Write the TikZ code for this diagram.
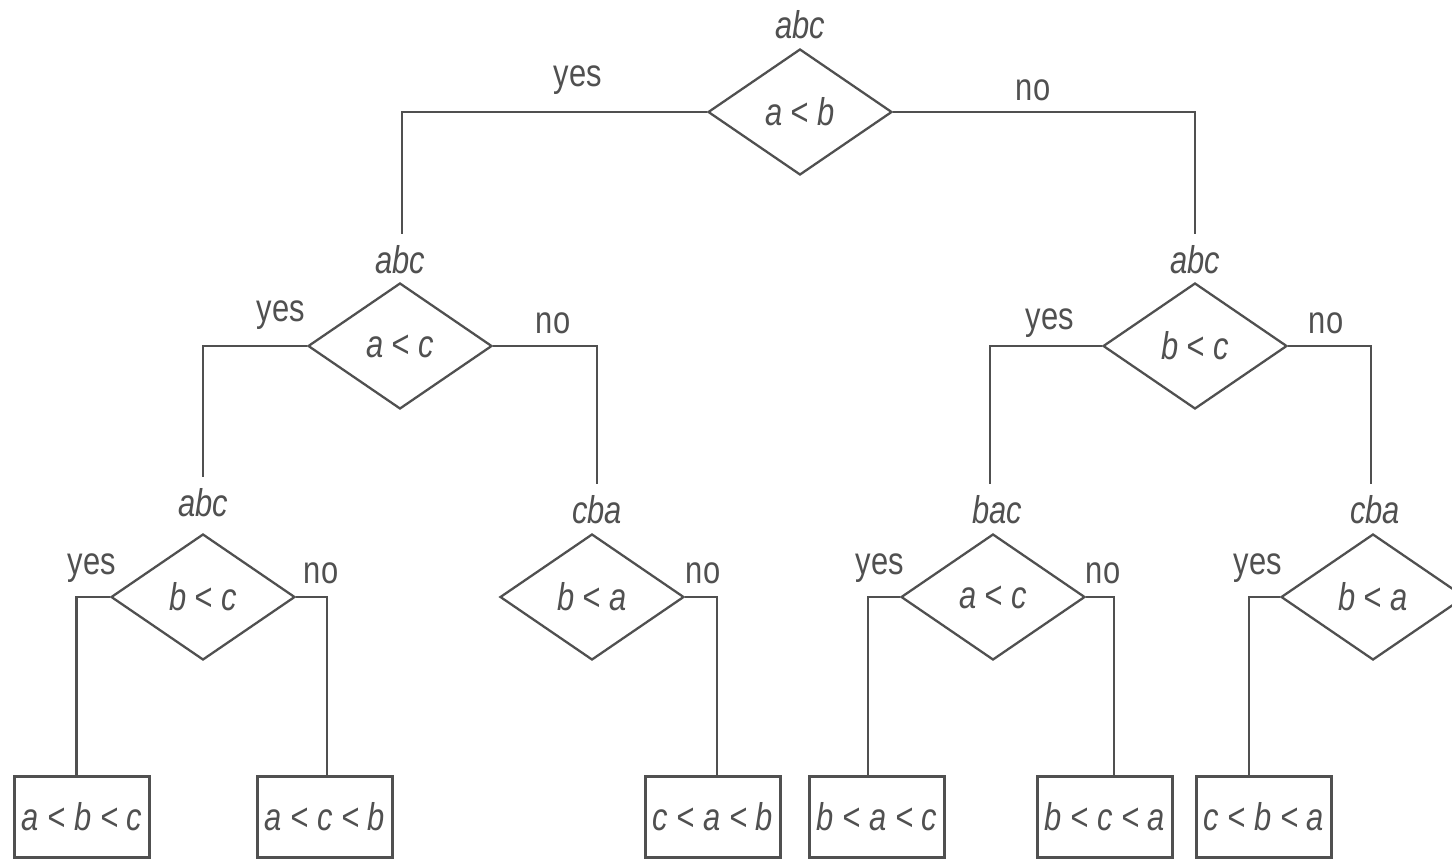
\documentclass[tikz,border=0pt]{standalone}
\usepackage{fontspec}
\setmainfont[FakeStretch=0.8]{Liberation Sans}
\usetikzlibrary{shapes.geometric,positioning}
\definecolor{inkgray}{HTML}{505050}

\begin{document}
\begin{tikzpicture}[
		x=0.02cm, y=-0.02cm,
		color=inkgray, line width=1.3pt,
		font=\fontsize{22}{26}\selectfont,
		test/.style={diamond, draw, minimum width=3.68cm, minimum height=2.52cm, inner sep=0pt, font=\fontsize{22}{26}\selectfont\itshape},
		leaf/.style={draw, minimum width=2.7cm, minimum height=1.62cm, inner sep=0pt, font=\fontsize{22}{26}\selectfont\itshape},
		order/.style={inner sep=6pt, font=\fontsize{22}{26}\selectfont\itshape},
	]
		\useasboundingbox (0,0) rectangle (1452,861);

		% comparisons
		\node[test] (ab) at (800,112) {a < b};
		\node[test] (ac) at (400,346) {a < c};
		\node[test] (bc) at (1195,346) {b < c};
		\node[test] (bc2) at (203,597) {b < c};
		\node[test] (ba) at (592,597) {b < a};
		\node[test] (ac2) at (993,597) {a < c};
		\node[test] (ba2) at (1373,597) {b < a};

		% current orders
		\node[order] (o0) at (800,25) {abc};
		\node[order] (o1) at (400,260) {abc};
		\node[order] (o2) at (1195,260) {abc};
		\node[order] (o3) at (203,503) {abc};
		\node[order] (o4) at (597,510) {cba};
		\node[order] (o5) at (997,510) {bac};
		\node[order] (o6) at (1375,510) {cba};

		% results
		\node[leaf] (r1) at (82,817) {a < b < c};
		\node[leaf] (r2) at (325,817) {a < c < b};
		\node[leaf] (r3) at (713,817) {c < a < b};
		\node[leaf] (r4) at (877,817) {b < a < c};
		\node[leaf] (r5) at (1105,817) {b < c < a};
		\node[leaf] (r6) at (1264,817) {c < b < a};

		% branches
		\draw (ab.west) -| ([xshift=0.04cm]o1.north);
		\draw (ab.east) -| (o2.north);
		\draw (ac.west) -| (o3.north);
		\draw (ac.east) -| (o4.north);
		\draw (bc.west) -| ([xshift=-0.14cm]o5.north);
		\draw (bc.east) -| ([xshift=-0.08cm]o6.north);
		\draw (bc2.west) -| ([xshift=-0.11cm]r1.north);
		\draw (bc2.east) -| ([xshift=0.04cm]r2.north);
		\draw (ba.east) -| ([xshift=0.08cm]r3.north);
		\draw (ac2.west) -| ([xshift=-0.18cm]r4.north);
		\draw (ac2.east) -| ([xshift=0.18cm]r5.north);
		\draw (ba2.west) -| ([xshift=-0.3cm]r6.north);

		% answers
		\node (y0) at (578,80) {yes};
		\node (n0) at (1033,90) {no};
		\node (y1) at (281,315) {yes};
		\node (n1) at (553,323) {no};
		\node (y2) at (1050,323) {yes};
		\node (n2) at (1326,323) {no};
		\node (y3) at (92,568) {yes};
		\node (n3) at (321,573) {no};
		\node (n4) at (703,573) {no};
		\node (y5) at (880,568) {yes};
		\node (n5) at (1103,573) {no};
		\node (y6) at (1258,568) {yes};
	\end{tikzpicture}
\end{document}
